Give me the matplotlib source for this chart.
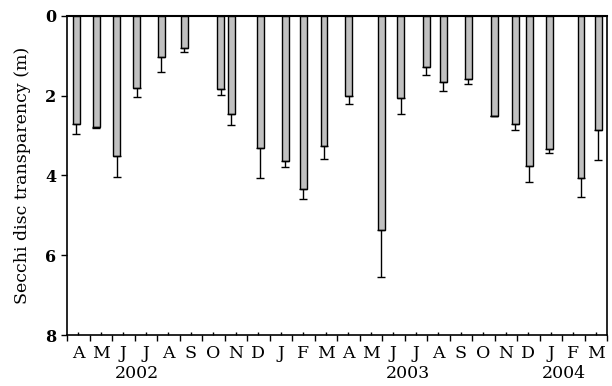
import numpy as np
import matplotlib.pyplot as plt

plt.rcParams['font.family'] = ['DejaVu Serif']

# sampling dates, in months since 1 April 2002
sample_pos = [0.42, 1.29, 2.22, 3.09, 4.18, 5.20, 6.84, 7.29, 8.58, 9.69, 10.49, 11.42,
              12.53, 13.96, 14.84, 15.96, 16.71, 17.82, 18.98, 19.91, 20.53, 21.42, 22.84, 23.60]
secchi = [2.70, 2.78, 3.52, 1.80, 1.04, 0.81, 1.84, 2.47, 3.31, 3.63, 4.34, 3.25,
          2.00, 5.37, 2.07, 1.29, 1.66, 1.59, 2.51, 2.70, 3.77, 3.33, 4.07, 2.86]
secchi_sd = [0.26, 0.03, 0.51, 0.24, 0.36, 0.09, 0.15, 0.27, 0.75, 0.15, 0.25, 0.35,
             0.20, 1.17, 0.38, 0.20, 0.22, 0.12, 0.00, 0.17, 0.40, 0.12, 0.48, 0.76]
month_labels = ['A', 'M', 'J', 'J', 'A', 'S', 'O', 'N', 'D', 'J', 'F', 'M',
                'A', 'M', 'J', 'J', 'A', 'S', 'O', 'N', 'D', 'J', 'F', 'M']
years = ['2002', '2003', '2004']
year_pos = [3.1, 15.15, 22.1]

fig = plt.figure(figsize=(6.12, 3.86), dpi=100)
ax = fig.add_axes([0.1095, 0.132, 0.8825, 0.827])

err = [np.zeros(len(secchi_sd)), secchi_sd]
ax.bar(sample_pos, secchi, width=0.31, color='#c0c0c0', edgecolor='black', linewidth=1.0)
ax.errorbar(sample_pos, secchi, yerr=err, fmt='none', ecolor='black', elinewidth=1.0, capsize=3, capthick=1.0)

ax.set_xlim(0, 24)
ax.set_ylim(8, 0)
ax.set_yticks([0, 2, 4, 6, 8])
ax.set_yticklabels(['0', '2', '4', '6', '8'], fontweight='bold', fontsize=11.5)
ax.set_ylabel('Secchi disc transparency (m)', fontsize=12.5, labelpad=10)

ax.set_xticks(np.arange(0, 25), minor=False)
ax.set_xticklabels([])
ax.set_xticks(np.arange(24) + 0.5, minor=True)
ax.set_xticklabels(month_labels, minor=True, fontsize=12.5)
ax.tick_params(axis='x', which='major', direction='out', length=4, width=1)
ax.tick_params(axis='x', which='minor', direction='in', length=2, width=1, pad=7)
ax.tick_params(axis='y', direction='out', length=4, width=1)

for yr, xp in zip(years, year_pos):
    ax.text(xp, -0.095, yr, transform=ax.get_xaxis_transform(), ha='center', va='top',
            fontsize=12.5)

for s in ax.spines.values():
    s.set_linewidth(1.2)
ax.spines['top'].set_linewidth(1.5)

fig.savefig('out.png', dpi=100)
